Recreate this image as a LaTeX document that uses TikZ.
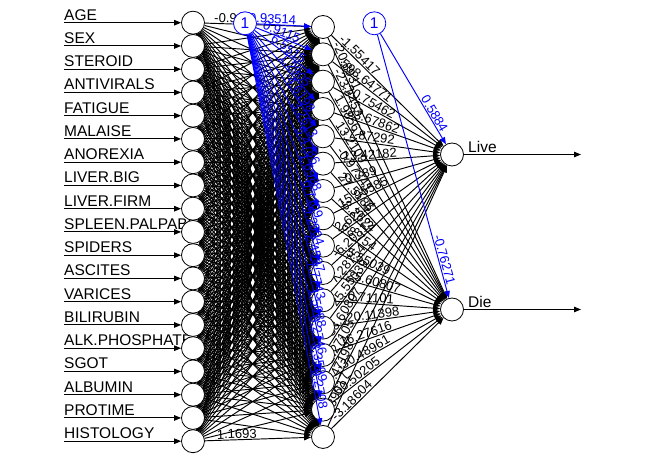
\documentclass[tikz,border=0pt]{standalone}
\usepackage{fontspec}
\setmainfont{Liberation Sans}
\usetikzlibrary{arrows.meta,calc,backgrounds}
\pgfdeclarelayer{front}
\pgfsetlayers{background,main,front}
\tikzset{
  neuron/.style={circle, draw, fill=white, minimum size=23pt, inner sep=0pt, line width=0.8pt},
  biasneuron/.style={neuron, draw=blue, text=blue, font=\fontsize{15.5}{18}\selectfont},
  conn/.style={line width=0.95pt, -{Triangle[length=7pt,width=5.5pt]}},
  biasconn/.style={conn, blue},
  namelab/.style={font=\fontsize{15.5}{18}\selectfont, inner sep=0pt},
  wlab/.style={font=\fontsize{13}{15}\selectfont, inner sep=1pt, sloped},
  bwlab/.style={wlab, text=blue}
}
\begin{document}
\begin{tikzpicture}[x=1pt,y=-1pt]
\useasboundingbox (0,0) rectangle (646,465);
\foreach \name [count=\k] in {AGE,SEX,STEROID,ANTIVIRALS,FATIGUE,MALAISE,ANOREXIA,LIVER.BIG,LIVER.FIRM,SPLEEN.PALPABLE,SPIDERS,ASCITES,VARICES,BILIRUBIN,ALK.PHOSPHATE,SGOT,ALBUMIN,PROTIME,HISTOLOGY} {
  \pgfmathsetmacro\yy{22.7+23.25*(\k-1)}
  \node[neuron] (i\k) at (193,\yy) {};
  \coordinate (s\k) at (64,\yy);
  \begin{scope}[on background layer]
    \node[namelab, anchor=base west] (n\k) at (64,\yy-2.6) {\name};
    \draw[conn] (s\k) -- (i\k);
  \end{scope}
}
\foreach \j in {1,...,16} {
  \pgfmathsetmacro\yy{27+27.33*(\j-1)}
  \node[neuron] (h\j) at (323,\yy) {};
}
\begin{pgfonlayer}{front}
\node[biasneuron] (b1) at (245,23.3) {1};
\node[biasneuron] (b2) at (374.3,23.3) {1};
\end{pgfonlayer}
\node[neuron] (o1) at (452,154.5) {};
\node[neuron] (o2) at (452,309.5) {};
\coordinate (e1) at (581,154.5);
\coordinate (e2) at (581,309.5);
\draw[conn] (o1) -- (e1);
\draw[conn] (o2) -- (e2);
\node[namelab, anchor=base west] (l1) at (468,152.3) {Live};
\node[namelab, anchor=base west] (l2) at (468,307.3) {Die};
\begin{scope}[on background layer]
\foreach \k in {1,...,19}
  \foreach \j in {1,...,16}
    \draw[conn] (i\k) -- (h\j);
\path ($(i1)!20pt!(h1)$) -- (h1) node[wlab, at start, anchor=south west] {-0.9};
\path ($(i19)!23pt!(h16)$) -- (h16) node[wlab, at start, anchor=south west] {1.1693};
\foreach \j/\wlive/\wdie in {1/-1.55417/-20.8931, 2/598.64771/-23.3453, 3/-20.75462/1.98567, 4/-23.67862/13.2109,
  5/-7.87292/-0.97341, 6/13.42182/27.5186, 7/-0.789/-8.2624, 8/15.95585/68.754,
  9/2.62544/-5.55039, 10/-6.20813/-25.60807, 11/7.28754/-0.71101, 12/-25.55039/-20.11398,
  13/33.60807/16.27616, 14/1.27105/-30.48961, 15/-5.47198/50.50205, 16/8.39017/-3.18604} {
  \draw[conn] (h\j) -- (o1);
  \draw[conn] (h\j) -- (o2);
  \path ($(h\j)!19pt!(o1)$) -- (o1) node[wlab, at start, anchor=south west] {\wlive};
  \path ($(h\j)!19pt!(o2)$) -- (o2) node[wlab, at start, anchor=south west] {\wdie};
}
\end{scope}
\foreach \j/\wbias in {1/0.93514, 2/0.9115, 3/6.5515, 4/1.2905, 5/-4.6198, 6/3.2613, 7/5.4786, 8/-1.6988,
  9/0.7109, 10/-9.2904, 11/2.4597, 12/-7.7743, 13/1.5088, 14/0.2746, 15/3.3599, 16/-9.2708} {
  \draw[biasconn] (b1) -- (h\j);
  \path (b1) -- ($(h\j)!26pt!(b1)$) node[bwlab, at end, anchor=south east] {\wbias};
}
\draw[biasconn] (b2) -- (o1);
\draw[biasconn] (b2) -- (o2);
\path (b2) -- ($(o1)!23pt!(b2)$) node[bwlab, at end, anchor=south east] {0.5884};
\path (b2) -- ($(o2)!23pt!(b2)$) node[bwlab, at end, anchor=south east] {-0.76271};
\end{tikzpicture}
\end{document}
